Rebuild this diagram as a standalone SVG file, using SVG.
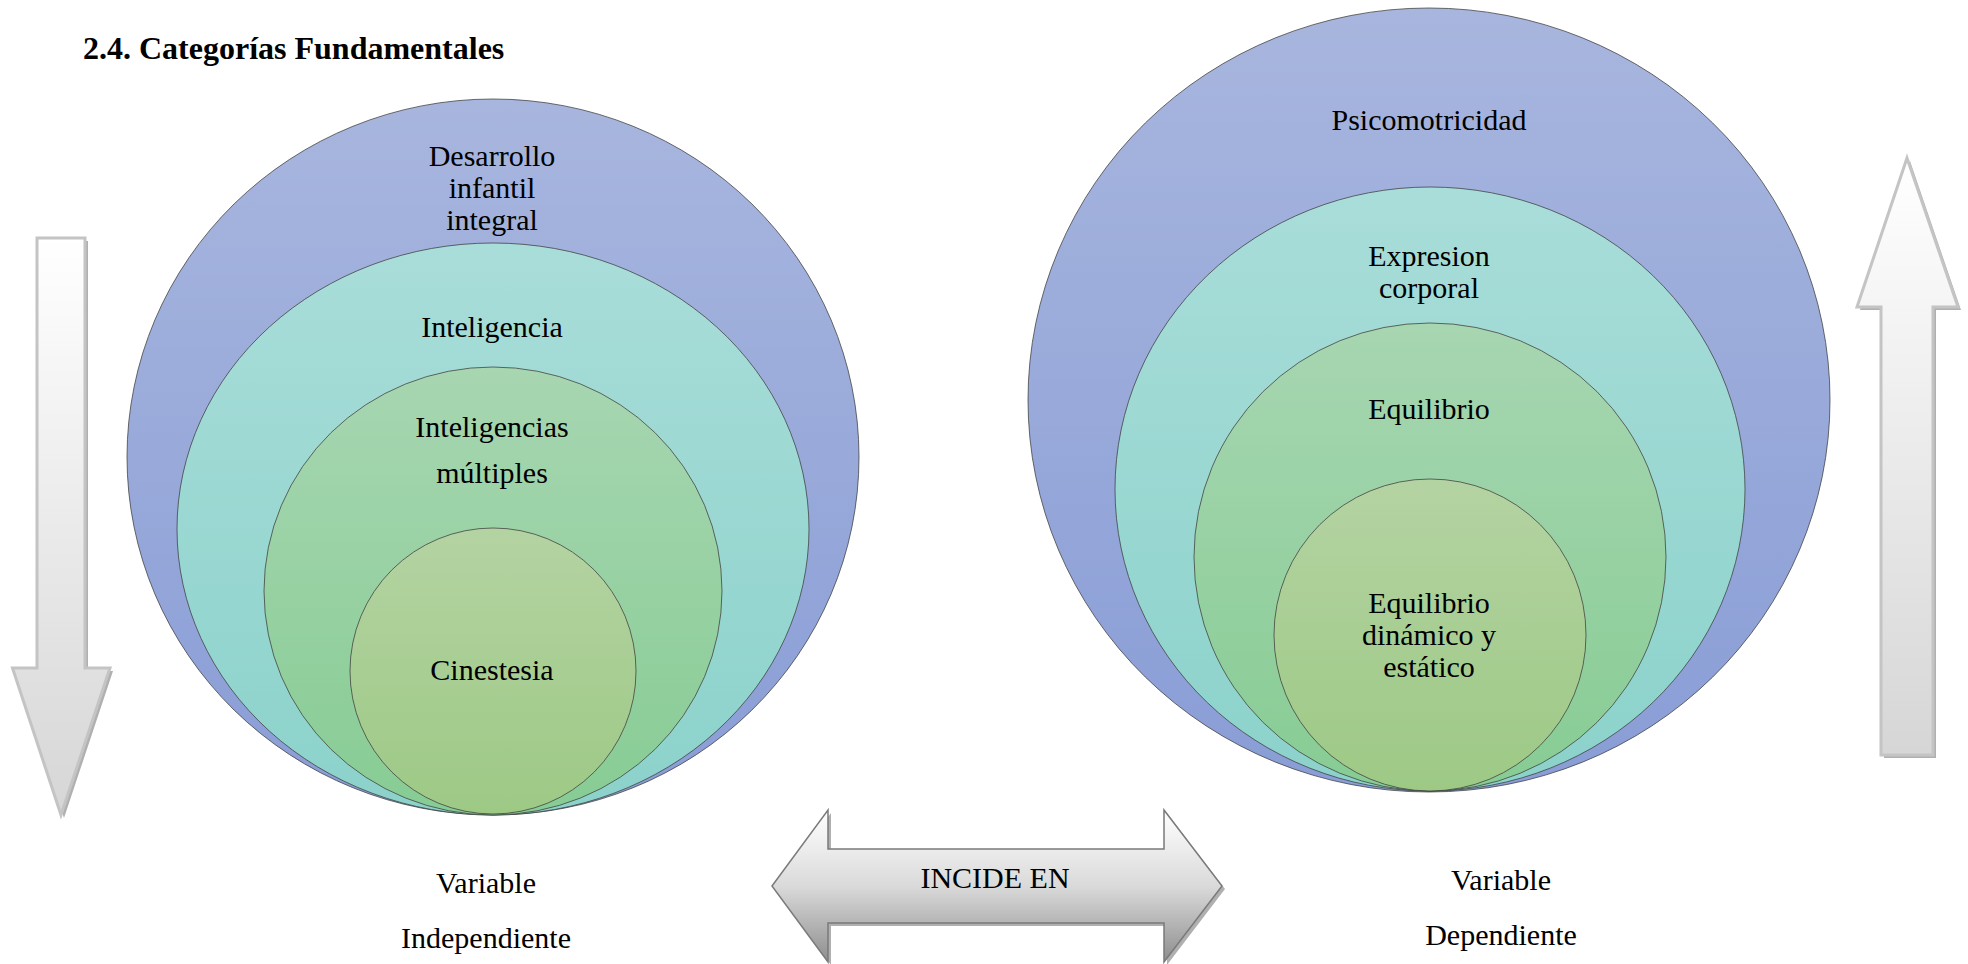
<svg xmlns="http://www.w3.org/2000/svg" width="1968" height="964" viewBox="0 0 1968 964">
  <defs>
    <linearGradient id="gBlue" x1="0" y1="0" x2="0" y2="1">
      <stop offset="0" stop-color="#a8b6de"/>
      <stop offset="1" stop-color="#899dd6"/>
    </linearGradient>
    <linearGradient id="gTeal" x1="0" y1="0" x2="0" y2="1">
      <stop offset="0" stop-color="#a9ddd9"/>
      <stop offset="1" stop-color="#8bd2cb"/>
    </linearGradient>
    <linearGradient id="gGreen" x1="0" y1="0" x2="0" y2="1">
      <stop offset="0" stop-color="#a7d6b1"/>
      <stop offset="1" stop-color="#87cc94"/>
    </linearGradient>
    <linearGradient id="gLeaf" x1="0" y1="0" x2="0" y2="1">
      <stop offset="0" stop-color="#b4d3a2"/>
      <stop offset="1" stop-color="#9dc985"/>
    </linearGradient>
    <linearGradient id="gLight" x1="0" y1="0" x2="0" y2="1">
      <stop offset="0" stop-color="#ffffff"/>
      <stop offset="1" stop-color="#d6d6d6"/>
    </linearGradient>
    <linearGradient id="gSilver" x1="0" y1="0" x2="0" y2="1">
      <stop offset="0" stop-color="#ffffff"/>
      <stop offset="0.5" stop-color="#dadada"/>
      <stop offset="1" stop-color="#8e8e8e"/>
    </linearGradient>
  </defs>
  <style>
    .ring { stroke: #3c3c3c; stroke-width: 1; stroke-opacity: 0.75; }
    .blue { fill: url(#gBlue); }
    .teal { fill: url(#gTeal); }
    .green { fill: url(#gGreen); }
    .leaf { fill: url(#gLeaf); }
    .lbl { font-family: "Liberation Serif", "Times New Roman", serif; font-size: 30px; fill: #000; text-anchor: middle; }
    .title { font-family: "Liberation Serif", "Times New Roman", serif; font-size: 32px; font-weight: bold; fill: #000; }
    .shadow { fill: #b0b0b0; }
    .lightArrow { fill: url(#gLight); stroke: #c4c4c4; stroke-width: 3; }
    .bigArrow { fill: url(#gSilver); stroke: #7a7a7a; stroke-width: 1.5; }
  </style>

  <rect width="1968" height="964" fill="#ffffff"/>

  <text class="title" x="83" y="59">2.4. Categorías Fundamentales</text>

  <!-- Left set of nested ellipses -->
  <g id="desarrollo">
    <ellipse class="ring blue" cx="493" cy="457" rx="366" ry="358"/>
    <text class="lbl" x="492" y="166">Desarrollo</text>
    <text class="lbl" x="492" y="198">infantil</text>
    <text class="lbl" x="492" y="230">integral</text>
  </g>
  <g id="inteligencia">
    <ellipse class="ring teal" cx="493" cy="529" rx="316" ry="286"/>
    <text class="lbl" x="492" y="337">Inteligencia</text>
  </g>
  <g id="inteligencias-multiples">
    <ellipse class="ring green" cx="493" cy="591" rx="229" ry="224"/>
    <text class="lbl" x="492" y="437">Inteligencias</text>
    <text class="lbl" x="492" y="483">múltiples</text>
  </g>
  <g id="cinestesia">
    <ellipse class="ring leaf" cx="493" cy="671" rx="143" ry="143"/>
    <text class="lbl" x="492" y="680">Cinestesia</text>
  </g>

  <!-- Right set of nested ellipses -->
  <g id="psicomotricidad">
    <ellipse class="ring blue" cx="1429" cy="400" rx="401" ry="392"/>
    <text class="lbl" x="1429" y="130">Psicomotricidad</text>
  </g>
  <g id="expresion-corporal">
    <ellipse class="ring teal" cx="1430" cy="489" rx="315" ry="302"/>
    <text class="lbl" x="1429" y="266">Expresion</text>
    <text class="lbl" x="1429" y="298">corporal</text>
  </g>
  <g id="equilibrio">
    <ellipse class="ring green" cx="1430" cy="557" rx="236" ry="234"/>
    <text class="lbl" x="1429" y="419">Equilibrio</text>
  </g>
  <g id="equilibrio-dinamico">
    <ellipse class="ring leaf" cx="1430" cy="635" rx="156" ry="156"/>
    <text class="lbl" x="1429" y="613">Equilibrio</text>
    <text class="lbl" x="1429" y="645">dinámico y</text>
    <text class="lbl" x="1429" y="677">estático</text>
  </g>

  <!-- Variable captions -->
  <g id="variable-independiente">
    <text class="lbl" x="486" y="893">Variable</text>
    <text class="lbl" x="486" y="948">Independiente</text>
  </g>
  <g id="variable-dependiente">
    <text class="lbl" x="1501" y="890">Variable</text>
    <text class="lbl" x="1501" y="945">Dependiente</text>
  </g>

  <!-- Block arrows -->
  <g id="connectors">
    <g id="arrow-down">
      <path class="shadow" d="M40,241 H88 V671 H113 L64,818 L15.5,671 H40 Z"/>
      <path class="lightArrow" d="M37,238 H85 V668 H110 L61,815 L12.5,668 H37 Z"/>
    </g>
    <g id="arrow-up">
      <path class="shadow" d="M1910,161 L1961,310 H1936 V758 H1884 V310 H1860 Z"/>
      <path class="lightArrow" d="M1907,158 L1958,307 H1933 V755 H1881 V307 H1857 Z"/>
    </g>
    <g id="incide-en">
      <path class="shadow" d="M775,889 L831,813 V852 H1167 V813 L1225,889 L1167,965 V926 H831 V965 Z"/>
      <path class="bigArrow" d="M772,886 L828,810 V849 H1164 V810 L1222,886 L1164,962 V923 H828 V962 Z"/>
      <text class="lbl" x="995" y="888">INCIDE EN</text>
    </g>
  </g>
</svg>
